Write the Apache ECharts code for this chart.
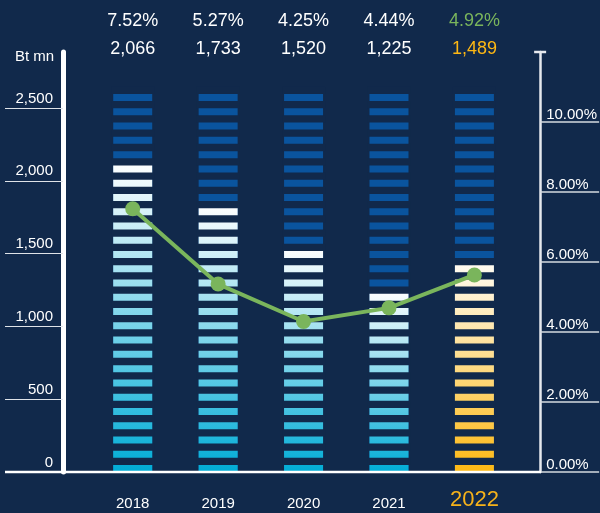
<!DOCTYPE html>
<html>
<head>
<meta charset="utf-8">
<script src="https://cdn.jsdelivr.net/npm/echarts@6/dist/echarts.min.js"></script>
<style>
html, body { margin: 0; padding: 0; background: #11294b; }
#main { width: 600px; height: 513px; }
</style>
</head>
<body>
<div id="main"></div>
<script>
// data
var years = ['2018', '2019', '2020', '2021', '2022'];
var amounts = [2066, 1733, 1520, 1225, 1489];            // Bt mn
var amountLabels = ['2,066', '1,733', '1,520', '1,225', '1,489'];
var rateLabels = ['7.52%', '5.27%', '4.25%', '4.44%', '4.92%'];
var ratePoints = [7.52, 5.37, 4.30, 4.69, 5.63];          // where the dots sit on the % axis
var litSegments = [22, 19, 16, 13, 15];                  // lit stripes per column
var totalSegments = 27;
var segmentValue = 98;                                    // Bt mn per stripe
var leftTicks = [0, 500, 1000, 1500, 2000, 2500];
var rightTicks = [0, 2, 4, 6, 8, 10];

var font = "'Liberation Sans', Arial, sans-serif";
var bgColor = '#11294b';
var stripeH = 7;

var chart = echarts.init(document.getElementById('main'));

function topLabel(v, i) {
	if (i === years.length - 1) {
		return '{pg|' + rateLabels[i] + '}\n{vy|' + amountLabels[i] + '}';
	}
	return '{p|' + rateLabels[i] + '}\n{v|' + amountLabels[i] + '}';
}

// column top ends in the middle of the gap above the last stripe
function columnTop(n) {
	return n * segmentValue - segmentValue / 4;
}

function litColor(i) {
	// gradient over the lit part of each column, bottom -> top
	if (i === years.length - 1) {
		return new echarts.graphic.LinearGradient(0, 1, 0, 0, [
			{ offset: 0, color: '#fdb813' },
			{ offset: 1, color: '#fffcf5' }
		]);
	}
	return new echarts.graphic.LinearGradient(0, 1, 0, 0, [
		{ offset: 0, color: '#00acd6' },
		{ offset: 1, color: '#ffffff' }
	]);
}

var option = {
	backgroundColor: bgColor,
	animation: false,
	textStyle: { fontFamily: font },
	title: {
		text: 'Bt mn',
		left: 15,
		top: 49,
		padding: 0,
		textStyle: { color: '#ffffff', fontSize: 15, fontWeight: 'normal', fontFamily: font }
	},
	grid: { left: 90, right: 82, top: 52, bottom: 41 },
	xAxis: [{
		type: 'category',
		data: years,
		position: 'bottom',
		axisLine: { show: false },
		axisTick: { show: false },
		axisLabel: {
			margin: 22,
			formatter: function(v, i) {
				return i === years.length - 1 ? '{h|' + v + '}' : '{y|' + v + '}';
			},
			rich: {
				y: { color: '#ffffff', fontSize: 15, lineHeight: 20, fontFamily: font },
				h: { color: '#f6b21a', fontSize: 22, lineHeight: 12, fontFamily: font }
			}
		}
	}, {
		type: 'category',
		data: years,
		position: 'top',
		axisLine: { show: false },
		axisTick: { show: false },
		axisLabel: {
			margin: -11,
			formatter: topLabel,
			rich: {
				p: { color: '#ffffff', fontSize: 18, lineHeight: 28, fontFamily: font },
				v: { color: '#ffffff', fontSize: 18, lineHeight: 28, fontFamily: font },
				pg: { color: '#7ab55c', fontSize: 18, lineHeight: 28, fontFamily: font },
				vy: { color: '#fdb714', fontSize: 18, lineHeight: 28, fontFamily: font }
			}
		}
	}],
	yAxis: [{
		type: 'value',
		min: 0,
		max: 2885,
		offset: 27,
		splitLine: { show: false },
		axisLine: { show: true, lineStyle: { color: '#ffffff', width: 5 } },
		axisTick: { show: true, length: 58, customValues: leftTicks, lineStyle: { color: '#dfe3e8', width: 1 } },
		axisLabel: {
			customValues: leftTicks,
			margin: 10,
			verticalAlign: 'bottom',
			padding: [0, 0, 2, 0],
			color: '#ffffff',
			fontSize: 15,
			formatter: function(v) { return v.toLocaleString('en-US'); }
		}
	}, {
		type: 'value',
		min: 0,
		max: 12,
		position: 'right',
		offset: 23,
		splitLine: { show: false },
		axisLine: { show: true, symbol: ['none', 'rect'], symbolSize: [12, 2.5], lineStyle: { color: '#e6e9ee', width: 2.5 } },
		axisTick: { show: true, length: 59, customValues: rightTicks, lineStyle: { color: '#d5dae0', width: 1.5 } },
		axisLabel: {
			customValues: rightTicks,
			margin: 6,
			verticalAlign: 'bottom',
			color: '#ffffff',
			fontSize: 15,
			formatter: function(v) { return v.toFixed(2) + '%'; }
		}
	}],
	series: [{
		// full height column in dark blue
		type: 'bar',
		name: 'scale',
		silent: true,
		barWidth: 39,
		barGap: '-100%',
		z: 2,
		itemStyle: { color: '#0a549e' },
		data: years.map(function() { return columnTop(totalSegments); })
	}, {
		// lit part of the column
		type: 'bar',
		name: 'Bt mn',
		barWidth: 39,
		barGap: '-100%',
		z: 3,
		data: litSegments.map(function(n, i) {
			return { value: columnTop(n), itemStyle: { color: litColor(i) } };
		})
	}, {
		// gaps between stripes, painted in the background colour
		type: 'pictorialBar',
		name: 'gaps',
		silent: true,
		barWidth: 43,
		symbol: 'rect',
		symbolSize: [43, 7],
		symbolMargin: '1!',
		symbolOffset: [0, -stripeH / 2],
		z: 4,
		itemStyle: { color: bgColor },
		data: years.map(function() {
			return {
				value: totalSegments * segmentValue,
				symbolRepeat: totalSegments,
				symbolBoundingData: totalSegments * segmentValue
			};
		})
	}, {
		type: 'line',
		name: 'rate',
		yAxisIndex: 1,
		data: ratePoints,
		symbol: 'circle',
		symbolSize: 15,
		z: 5,
		lineStyle: { color: '#7ab55c', width: 4 },
		itemStyle: { color: '#7ab55c' }
	}]
};

chart.setOption(option);

// gap height = stripe pitch minus stripe height; base line across both axes
var y0 = chart.convertToPixel({ yAxisIndex: 0 }, 0);
var pitch = y0 - chart.convertToPixel({ yAxisIndex: 0 }, segmentValue);

chart.setOption({
	series: [{}, {}, { symbolSize: [43, pitch - stripeH] }, {}],
	graphic: [{
		type: 'line',
		z: 10,
		shape: { x1: 5, y1: y0, x2: 541, y2: y0 },
		style: { stroke: '#ffffff', lineWidth: 2.5 }
	}]
});
</script>
</body>
</html>
